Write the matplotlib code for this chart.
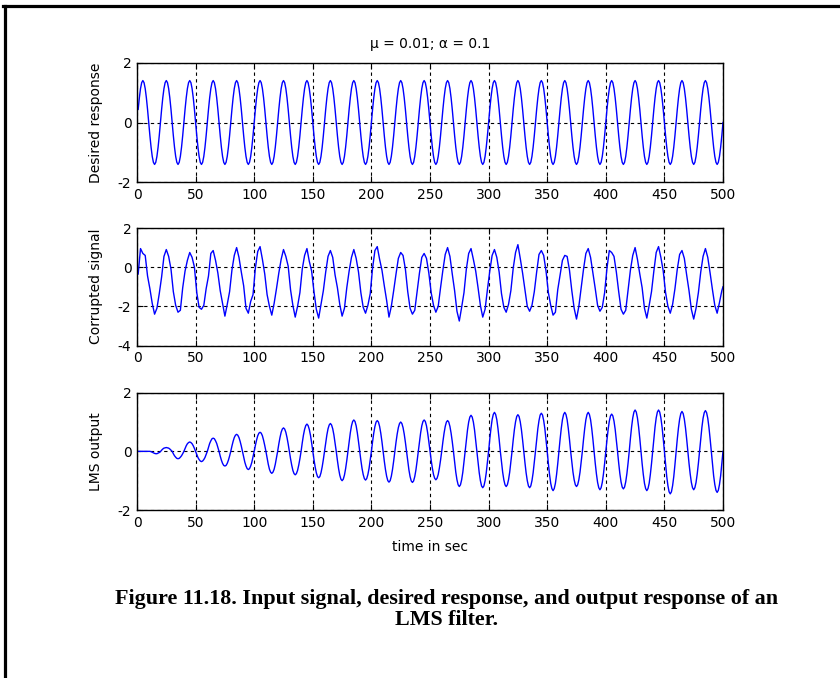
import matplotlib
matplotlib.use('Agg')
from matplotlib import pyplot as plt
from matplotlib.lines import Line2D

# time axes
t = list(range(1, 501))                  # every sample
t2 = list(range(1, 500, 2)) + [500]      # every second sample (noisy trace)

# desired response (one line = one period of 20 samples)
desired = [
    0.44, 0.83, 1.14, 1.34, 1.41, 1.34, 1.14, 0.83, 0.44, 0, -0.44, -0.83, -1.14, -1.34, -1.41, -1.34, -1.14, -0.83, -0.44, 0,
    0.44, 0.83, 1.14, 1.34, 1.41, 1.34, 1.14, 0.83, 0.44, 0, -0.44, -0.83, -1.14, -1.34, -1.41, -1.34, -1.14, -0.83, -0.44, 0,
    0.44, 0.83, 1.14, 1.34, 1.41, 1.34, 1.14, 0.83, 0.44, 0, -0.44, -0.83, -1.14, -1.34, -1.41, -1.34, -1.14, -0.83, -0.44, 0,
    0.44, 0.83, 1.14, 1.34, 1.41, 1.34, 1.14, 0.83, 0.44, 0, -0.44, -0.83, -1.14, -1.34, -1.41, -1.34, -1.14, -0.83, -0.44, 0,
    0.44, 0.83, 1.14, 1.34, 1.41, 1.34, 1.14, 0.83, 0.44, 0, -0.44, -0.83, -1.14, -1.34, -1.41, -1.34, -1.14, -0.83, -0.44, 0,
    0.44, 0.83, 1.14, 1.34, 1.41, 1.34, 1.14, 0.83, 0.44, 0, -0.44, -0.83, -1.14, -1.34, -1.41, -1.34, -1.14, -0.83, -0.44, 0,
    0.44, 0.83, 1.14, 1.34, 1.41, 1.34, 1.14, 0.83, 0.44, 0, -0.44, -0.83, -1.14, -1.34, -1.41, -1.34, -1.14, -0.83, -0.44, 0,
    0.44, 0.83, 1.14, 1.34, 1.41, 1.34, 1.14, 0.83, 0.44, 0, -0.44, -0.83, -1.14, -1.34, -1.41, -1.34, -1.14, -0.83, -0.44, 0,
    0.44, 0.83, 1.14, 1.34, 1.41, 1.34, 1.14, 0.83, 0.44, 0, -0.44, -0.83, -1.14, -1.34, -1.41, -1.34, -1.14, -0.83, -0.44, 0,
    0.44, 0.83, 1.14, 1.34, 1.41, 1.34, 1.14, 0.83, 0.44, 0, -0.44, -0.83, -1.14, -1.34, -1.41, -1.34, -1.14, -0.83, -0.44, 0,
    0.44, 0.83, 1.14, 1.34, 1.41, 1.34, 1.14, 0.83, 0.44, 0, -0.44, -0.83, -1.14, -1.34, -1.41, -1.34, -1.14, -0.83, -0.44, 0,
    0.44, 0.83, 1.14, 1.34, 1.41, 1.34, 1.14, 0.83, 0.44, 0, -0.44, -0.83, -1.14, -1.34, -1.41, -1.34, -1.14, -0.83, -0.44, 0,
    0.44, 0.83, 1.14, 1.34, 1.41, 1.34, 1.14, 0.83, 0.44, 0, -0.44, -0.83, -1.14, -1.34, -1.41, -1.34, -1.14, -0.83, -0.44, 0,
    0.44, 0.83, 1.14, 1.34, 1.41, 1.34, 1.14, 0.83, 0.44, 0, -0.44, -0.83, -1.14, -1.34, -1.41, -1.34, -1.14, -0.83, -0.44, 0,
    0.44, 0.83, 1.14, 1.34, 1.41, 1.34, 1.14, 0.83, 0.44, 0, -0.44, -0.83, -1.14, -1.34, -1.41, -1.34, -1.14, -0.83, -0.44, 0,
    0.44, 0.83, 1.14, 1.34, 1.41, 1.34, 1.14, 0.83, 0.44, 0, -0.44, -0.83, -1.14, -1.34, -1.41, -1.34, -1.14, -0.83, -0.44, 0,
    0.44, 0.83, 1.14, 1.34, 1.41, 1.34, 1.14, 0.83, 0.44, 0, -0.44, -0.83, -1.14, -1.34, -1.41, -1.34, -1.14, -0.83, -0.44, 0,
    0.44, 0.83, 1.14, 1.34, 1.41, 1.34, 1.14, 0.83, 0.44, 0, -0.44, -0.83, -1.14, -1.34, -1.41, -1.34, -1.14, -0.83, -0.44, 0,
    0.44, 0.83, 1.14, 1.34, 1.41, 1.34, 1.14, 0.83, 0.44, 0, -0.44, -0.83, -1.14, -1.34, -1.41, -1.34, -1.14, -0.83, -0.44, 0,
    0.44, 0.83, 1.14, 1.34, 1.41, 1.34, 1.14, 0.83, 0.44, 0, -0.44, -0.83, -1.14, -1.34, -1.41, -1.34, -1.14, -0.83, -0.44, 0,
    0.44, 0.83, 1.14, 1.34, 1.41, 1.34, 1.14, 0.83, 0.44, 0, -0.44, -0.83, -1.14, -1.34, -1.41, -1.34, -1.14, -0.83, -0.44, 0,
    0.44, 0.83, 1.14, 1.34, 1.41, 1.34, 1.14, 0.83, 0.44, 0, -0.44, -0.83, -1.14, -1.34, -1.41, -1.34, -1.14, -0.83, -0.44, 0,
    0.44, 0.83, 1.14, 1.34, 1.41, 1.34, 1.14, 0.83, 0.44, 0, -0.44, -0.83, -1.14, -1.34, -1.41, -1.34, -1.14, -0.83, -0.44, 0,
    0.44, 0.83, 1.14, 1.34, 1.41, 1.34, 1.14, 0.83, 0.44, 0, -0.44, -0.83, -1.14, -1.34, -1.41, -1.34, -1.14, -0.83, -0.44, 0,
    0.44, 0.83, 1.14, 1.34, 1.41, 1.34, 1.14, 0.83, 0.44, 0, -0.44, -0.83, -1.14, -1.34, -1.41, -1.34, -1.14, -0.83, -0.44, 0,
]

# corrupted signal (noisy, shifted down), read every second sample
corrupted = [
    -0.35, 0.95, 0.70, 0.60, -0.45, -1.10, -1.85, -2.40, -2.10, -1.35,
    -0.50, 0.55, 0.90, 0.55, -0.10, -1.25, -1.95, -2.30, -2.20, -1.05,
    -0.20, 0.35, 0.75, 0.50, 0.00, -1.30, -2.05, -2.15, -1.95, -1.10,
    -0.45, 0.70, 0.85, 0.35, -0.30, -1.20, -1.85, -2.50, -1.90, -1.25,
    -0.15, 0.60, 1.00, 0.50, -0.25, -0.95, -2.10, -2.35, -1.75, -1.40,
    -0.05, 0.80, 1.05, 0.40, -0.35, -1.40, -2.00, -2.45, -1.85, -1.10,
    -0.30, 0.40, 0.90, 0.55, 0.05, -1.15, -1.95, -2.55, -2.00, -1.30,
    -0.10, 0.60, 0.95, 0.30, -0.20, -1.25, -2.15, -2.60, -1.90, -1.20,
    -0.25, 0.55, 0.85, 0.50, -0.40, -1.05, -1.90, -2.50, -2.10, -1.05,
    -0.20, 0.50, 0.90, 0.45, -0.25, -1.30, -2.05, -2.35, -1.95, -1.35,
    -0.05, 0.85, 1.05, 0.40, -0.15, -0.95, -1.70, -2.55, -2.00, -1.20,
    -0.35, 0.45, 0.75, 0.60, -0.10, -1.25, -2.10, -2.40, -2.20, -1.25,
    -0.30, 0.50, 0.70, 0.45, -0.30, -1.30, -1.95, -2.30, -2.00, -1.05,
    -0.15, 0.65, 1.00, 0.55, -0.35, -1.20, -2.25, -2.75, -2.05, -1.30,
    -0.10, 0.70, 0.95, 0.40, -0.20, -1.05, -1.95, -2.55, -2.15, -1.15,
    -0.20, 0.60, 0.90, 0.50, -0.25, -1.35, -2.05, -2.30, -1.90, -1.20,
    -0.05, 0.75, 1.15, 0.45, -0.30, -1.15, -2.00, -2.25, -1.95, -1.25,
    -0.25, 0.65, 0.85, 0.60, -0.20, -1.30, -1.95, -2.45, -2.30, -1.15,
    -0.40, 0.35, 0.60, 0.55, -0.15, -1.20, -2.10, -2.65, -2.00, -1.05,
    -0.10, 0.70, 0.95, 0.50, -0.30, -1.10, -1.95, -2.25, -2.05, -1.30,
    -0.05, 0.85, 0.75, 0.55, -0.25, -1.25, -2.15, -2.40, -2.20, -1.15,
    -0.15, 0.60, 1.00, 0.40, -0.35, -1.05, -2.10, -2.60, -1.95, -1.25,
    -0.20, 0.75, 1.05, 0.50, -0.20, -1.30, -2.00, -2.35, -1.90, -1.10,
    -0.10, 0.65, 0.85, 0.45, -0.40, -1.20, -2.15, -2.65, -2.10, -1.30,
    -0.25, 0.55, 0.95, 0.50, -0.30, -1.15, -1.95, -2.35, -1.80, -1.20,
    -1.00,
]

# LMS output, amplitude grows while the filter adapts (one line = 20 samples)
lms_out = [
    0, 0, 0, 0, 0, 0, 0, 0, 0, 0, 0, -0.01, -0.03, -0.05, -0.07, -0.08, -0.08, -0.06, -0.04, -0.01,
    0.04, 0.08, 0.11, 0.12, 0.13, 0.12, 0.11, 0.08, 0.04, 0, -0.08, -0.15, -0.20, -0.24, -0.25, -0.24, -0.20, -0.15, -0.08, 0,
    0.10, 0.19, 0.26, 0.30, 0.32, 0.30, 0.26, 0.19, 0.10, 0, -0.11, -0.21, -0.28, -0.33, -0.35, -0.33, -0.28, -0.21, -0.11, 0,
    0.14, 0.27, 0.36, 0.43, 0.45, 0.43, 0.36, 0.27, 0.14, 0, -0.16, -0.30, -0.41, -0.48, -0.50, -0.48, -0.41, -0.30, -0.16, 0,
    0.18, 0.34, 0.47, 0.55, 0.58, 0.55, 0.47, 0.34, 0.18, 0, -0.19, -0.37, -0.50, -0.59, -0.62, -0.59, -0.50, -0.37, -0.19, 0,
    0.20, 0.38, 0.53, 0.62, 0.65, 0.62, 0.53, 0.38, 0.20, 0, -0.23, -0.44, -0.61, -0.71, -0.75, -0.71, -0.61, -0.44, -0.23, 0,
    0.25, 0.47, 0.65, 0.76, 0.80, 0.76, 0.65, 0.47, 0.25, 0, -0.25, -0.47, -0.65, -0.76, -0.80, -0.76, -0.65, -0.47, -0.25, 0,
    0.29, 0.55, 0.75, 0.88, 0.93, 0.88, 0.75, 0.55, 0.29, 0, -0.28, -0.53, -0.73, -0.86, -0.90, -0.86, -0.73, -0.53, -0.28, 0,
    0.29, 0.56, 0.77, 0.90, 0.95, 0.90, 0.77, 0.56, 0.29, 0, -0.31, -0.59, -0.81, -0.95, -1.00, -0.95, -0.81, -0.59, -0.31, 0,
    0.33, 0.63, 0.87, 1.02, 1.07, 1.02, 0.87, 0.63, 0.33, 0, -0.30, -0.58, -0.79, -0.93, -0.98, -0.93, -0.79, -0.58, -0.30, 0,
    0.33, 0.62, 0.85, 1.00, 1.05, 1.00, 0.85, 0.62, 0.33, 0, -0.33, -0.62, -0.85, -1.00, -1.05, -1.00, -0.85, -0.62, -0.33, 0,
    0.31, 0.59, 0.81, 0.95, 1.00, 0.95, 0.81, 0.59, 0.31, 0, -0.33, -0.63, -0.86, -1.01, -1.06, -1.01, -0.86, -0.63, -0.33, 0,
    0.33, 0.63, 0.87, 1.02, 1.07, 1.02, 0.87, 0.63, 0.33, 0, -0.30, -0.57, -0.79, -0.92, -0.97, -0.92, -0.79, -0.57, -0.30, 0,
    0.33, 0.62, 0.85, 1.00, 1.05, 1.00, 0.85, 0.62, 0.33, 0, -0.37, -0.71, -0.97, -1.14, -1.20, -1.14, -0.97, -0.71, -0.37, 0,
    0.38, 0.73, 1.00, 1.17, 1.23, 1.17, 1.00, 0.73, 0.38, 0, -0.38, -0.73, -1.00, -1.18, -1.24, -1.18, -1.00, -0.73, -0.38, 0,
    0.41, 0.78, 1.08, 1.26, 1.33, 1.26, 1.08, 0.78, 0.41, 0, -0.37, -0.71, -0.97, -1.14, -1.20, -1.14, -0.97, -0.71, -0.37, 0,
    0.39, 0.74, 1.01, 1.19, 1.25, 1.19, 1.01, 0.74, 0.39, 0, -0.38, -0.73, -1.00, -1.18, -1.24, -1.18, -1.00, -0.73, -0.38, 0,
    0.40, 0.77, 1.05, 1.24, 1.30, 1.24, 1.05, 0.77, 0.40, 0, -0.42, -0.79, -1.09, -1.27, -1.34, -1.27, -1.09, -0.79, -0.42, 0,
    0.41, 0.78, 1.08, 1.26, 1.33, 1.26, 1.08, 0.78, 0.41, 0, -0.37, -0.71, -0.97, -1.14, -1.20, -1.14, -0.97, -0.71, -0.37, 0,
    0.41, 0.78, 1.08, 1.26, 1.33, 1.26, 1.08, 0.78, 0.41, 0, -0.41, -0.77, -1.06, -1.24, -1.31, -1.24, -1.06, -0.77, -0.41, 0,
    0.39, 0.75, 1.03, 1.21, 1.27, 1.21, 1.03, 0.75, 0.39, 0, -0.40, -0.76, -1.04, -1.22, -1.28, -1.22, -1.04, -0.76, -0.40, 0,
    0.44, 0.83, 1.14, 1.34, 1.41, 1.34, 1.14, 0.83, 0.44, 0, -0.42, -0.79, -1.09, -1.27, -1.34, -1.27, -1.09, -0.79, -0.42, 0,
    0.44, 0.83, 1.14, 1.34, 1.41, 1.34, 1.14, 0.83, 0.44, 0, -0.45, -0.86, -1.17, -1.38, -1.45, -1.38, -1.17, -0.86, -0.45, 0,
    0.42, 0.80, 1.10, 1.29, 1.36, 1.29, 1.10, 0.80, 0.42, 0, -0.41, -0.77, -1.06, -1.24, -1.31, -1.24, -1.06, -0.77, -0.41, 0,
    0.43, 0.82, 1.13, 1.32, 1.39, 1.32, 1.13, 0.82, 0.43, 0, -0.43, -0.83, -1.13, -1.33, -1.40, -1.33, -1.13, -0.83, -0.43, 0,
]

series = [(t, desired), (t2, corrupted), (t, lms_out)]
ylabels = ['Desired response', 'Corrupted signal', 'LMS output']
yticks = [[-2, 0, 2], [-4, -2, 0, 2], [-2, 0, 2]]
xticks = list(range(0, 501, 50))

plt.rcParams['font.family'] = ['DejaVu Sans']
plt.rcParams['font.size'] = 10
plt.rcParams['axes.unicode_minus'] = False

fig = plt.figure(figsize=(8.4, 6.78), dpi=100)

# axes boxes (pixel measurements from the picture)
left, width = 137 / 840, 586 / 840
boxes = [(63, 182), (228, 345.5), (392.7, 510)]

for k, (top, bot) in enumerate(boxes):
    ax = fig.add_axes([left, 1 - bot / 678, width, (bot - top) / 678])
    x, y = series[k]
    ax.plot(x, y, color='#0000ff', lw=1.0)
    ax.set_xlim(0, 500)
    ax.set_ylim(yticks[k][0], yticks[k][-1])
    ax.set_xticks(xticks)
    ax.set_yticks(yticks[k])
    ax.grid(True, color='black', linestyle=(0, (3, 3)), lw=0.8)
    ax.tick_params(direction='in', length=4, top=True, right=True, pad=4,
                   labelsize=10, width=0.8)
    for s in ax.spines.values():
        s.set_linewidth(1.0)
    ax.text(-0.07, 0.5, ylabels[k], rotation=90, ha='center', va='center',
            transform=ax.transAxes)
    if k == 0:
        ax.set_title('\u03bc = 0.01; \u03b1 = 0.1', fontsize=10, pad=10.5)
    if k == 2:
        ax.text(0.5, -0.315, 'time in sec', ha='center', va='center',
                transform=ax.transAxes)

# caption
cap = dict(family='Liberation Serif', weight='bold', fontsize=15.8,
           ha='center', va='baseline')
fig.text(447 / 840, 1 - 604 / 678,
         'Figure 11.18. Input signal, desired response, and output response of an', **cap)
fig.text(447 / 840, 1 - 625 / 678, 'LMS filter.', **cap)

# page frame: top and left edges only
fig.add_artist(Line2D([3.3 / 840, 1], [1 - 5.5 / 678] * 2, color='black', lw=2.3,
                      transform=fig.transFigure))
fig.add_artist(Line2D([5 / 840] * 2, [0, 1 - 5.5 / 678], color='black', lw=2.3,
                      transform=fig.transFigure))

plt.savefig('out.png', dpi=100)
